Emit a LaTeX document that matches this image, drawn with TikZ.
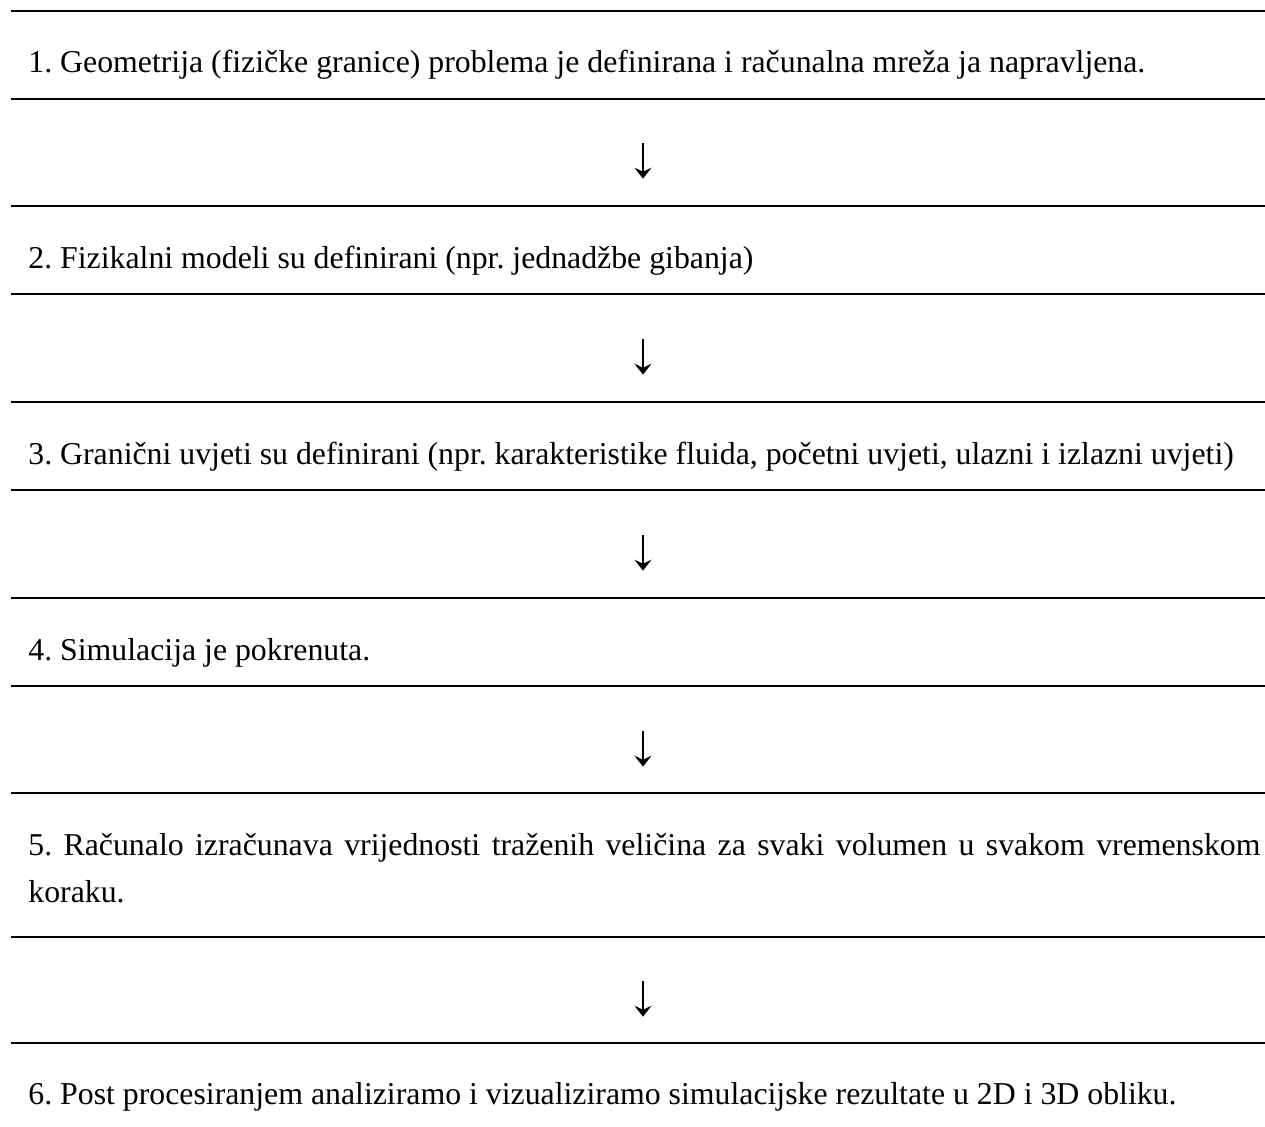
\documentclass[tikz,border=0pt]{standalone}
\usepackage{fontspec}
\setmainfont{Liberation Serif}
\usetikzlibrary{arrows.meta}
\frenchspacing
\begin{document}
\begin{tikzpicture}[x=0.5pt,y=-0.5pt,
  rule/.style={line width=1pt},
  steptext/.style={anchor=base west,inner sep=0pt,font=\fontsize{15.9pt}{23.5pt}\selectfont},
  downarrow/.style={line width=0.8pt,-{Stealth[length=5.5pt,width=8.5pt,inset=2pt]}}]
\useasboundingbox (0,0) rectangle (1265,1126);
% rules
\foreach \y in {11,99,206,294,402,490,598,686,793,937,1043}
  \draw[rule] (11,\y) -- (1265,\y);
% texts
\node[steptext] (t1) at (28,72.7) {1. Geometrija (fizičke granice) problema je definirana i računalna mreža ja napravljena.};
\node[steptext] (t2) at (28,268) {2. Fizikalni modeli su definirani (npr. jednadžbe gibanja)};
\node[steptext] (t3) at (28,464) {3. Granični uvjeti su definirani (npr. karakteristike fluida, početni uvjeti, ulazni i izlazni uvjeti)};
\node[steptext] (t4) at (28,660) {4. Simulacija je pokrenuta.};
\node[steptext,text width=616pt,align=justify] (t5) at (28,855) {5. Računalo izračunava vrijednosti traženih veličina za svaki volumen u svakom vremenskom\linebreak koraku.};
\node[steptext] (t6) at (28,1104) {6. Post procesiranjem analiziramo i vizualiziramo simulacijske rezultate u 2D i 3D obliku.};
% arrows
\foreach \i/\y in {1/142.7,2/338.7,3/534.7,4/730.7,5/980.7}{
  \coordinate (a\i s) at (643,\y);
  \coordinate (a\i e) at (643,\y+36);
  \draw[downarrow] (a\i s) -- (a\i e);
}
\end{tikzpicture}
\end{document}
